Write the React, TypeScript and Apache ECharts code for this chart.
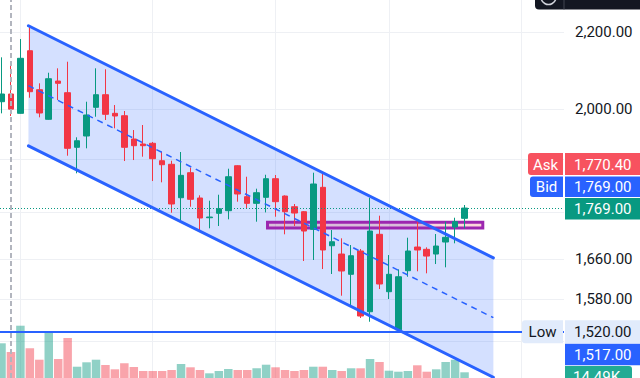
import React, { useEffect, useRef } from "react";
import * as echarts from "echarts";

// ---- data ----
const opens = [2018.5, 2037.9, 1989.6, 2150.3, 2048.8, 1974.9, 2071.0, 2041.2, 1907.5, 1934.4,
  2004.5, 2036.1, 1989.6, 1983.7, 1927.2, 1915.3, 1917.0, 1876.0, 1867.7, 1791.8,
  1848.3, 1791.2, 1747.9, 1757.5, 1763.2, 1864.4, 1794.1, 1779.4, 1792.7, 1834.6,
  1795.6, 1771.9, 1761.0, 1722.9, 1815.1, 1688.2, 1670.9, 1629.4, 1677.2, 1555.5,
  1712.3, 1594.6, 1521.0, 1636.7, 1685.5, 1680.7, 1670.9, 1696.0, 1727.9, 1746.6];
const closes = [2037.9, 2000.0, 2130.2, 2043.7, 1990.4, 2076.9, 2065.1, 1905.1, 1923.1, 1985.5,
  2036.1, 1987.2, 1983.0, 1907.5, 1911.3, 1911.3, 1880.7, 1866.7, 1777.9, 1842.3,
  1788.3, 1747.3, 1749.4, 1767.5, 1839.1, 1800.1, 1779.4, 1803.0, 1834.6, 1783.0,
  1761.0, 1758.1, 1719.3, 1822.6, 1679.3, 1696.6, 1636.1, 1667.4, 1547.2, 1719.3,
  1609.9, 1629.4, 1624.5, 1677.2, 1679.3, 1666.7, 1687.6, 1705.9, 1739.3, 1769.0];
const lows = [1989.6, 1983.0, 1989.0, 2028.5, 1979.8, 1974.0, 2022.7, 1887.7, 1846.9, 1905.1,
  1981.3, 1973.2, 1953.0, 1875.3, 1877.6, 1885.4, 1829.3, 1826.4, 1758.8, 1742.9,
  1771.9, 1719.3, 1725.1, 1730.0, 1744.4, 1783.0, 1768.4, 1739.3, 1759.5, 1750.1,
  1712.3, 1730.0, 1656.5, 1658.6, 1640.1, 1630.0, 1586.7, 1566.5, 1543.4, 1536.3,
  1599.9, 1580.2, 1520.0, 1624.5, 1635.5, 1631.4, 1650.3, 1643.6, 1693.3, 1725.1];
const highs = [2132.8, 2115.1, 2181.8, 2218.1, 2065.1, 2092.4, 2103.9, 2121.2, 1931.3, 2018.5,
  2103.9, 2101.3, 2010.2, 1995.3, 1948.8, 1961.0, 1920.1, 1897.1, 1876.0, 1896.4,
  1859.8, 1797.2, 1785.2, 1798.5, 1857.5, 1865.5, 1839.1, 1812.0, 1843.7, 1843.0,
  1797.0, 1777.9, 1762.5, 1848.3, 1850.6, 1721.4, 1703.8, 1689.7, 1681.4, 1791.8,
  1752.3, 1668.8, 1639.5, 1705.1, 1742.9, 1684.9, 1712.9, 1739.3, 1747.9, 1775.7];
const volumesK = [88.2, 66.1, 132.9, 75.5, 46.5, 116.9, 48.3, 101.7, 28.7, 39.9,
  46.5, 33.0, 22.1, 37.4, 28.0, 17.8, 17.8, 17.8, 20.3, 35.6,
  27.2, 20.3, 11.9, 17.8, 22.9, 20.3, 20.3, 24.7, 33.8, 27.2,
  20.3, 17.8, 20.3, 28.7, 28.7, 20.3, 17.8, 24.7, 24.7, 48.3,
  40.7, 18.6, 16.0, 17.8, 32.3, 16.0, 22.1, 40.7, 46.5, 14.49];

// price grid levels; labels shown for those not hidden behind the price tags
const priceTicks = [1500, 1580, 1660, 1760, 1880, 2000, 2200];
const labelledTicks = [1580, 1660, 1880, 2000, 2200];
const timeGridBars = [2, 16, 29, 41, 55];
const sessionBar = 1;

const channelX = [2.85, 52.05];
const channelUpper = [2218, 1663];
const channelMid = [2059, 1544];
const channelLower = [1911, 1434];

const zoneX = [28.15, 50.93];
const zonePrice = [1738, 1726];

const horizontalLevel = 1517;
const lowOfRange = 1520;
const lastPrice = 1769;
const askPrice = 1770.4;
const bidPrice = 1769.0;

// ---- styles ----
const UP = "#089981";
const DOWN = "#f23645";
const BLUE = "#2962ff";
const FONT = "Roboto, 'Noto Sans', sans-serif";
const FS = 15;

const fmt = (v: number) =>
  v.toLocaleString("en-US", { minimumFractionDigits: 2, maximumFractionDigits: 2 });
const fmtK = (v: number) => `${v.toFixed(2)}K`;

const X_MIN = -0.1587;
const X_MAX = 59.524;

export default function App() {
  const ref = useRef<HTMLDivElement>(null);

  useEffect(() => {
    const chart = echarts.init(ref.current!, null, { renderer: "svg" });

    const candleData = opens.map((o, i) => [i, o, closes[i], lows[i], highs[i]]);
    const volumeData = volumesK.map((v, i) => ({
      value: [i, v],
      itemStyle: {
        color: closes[i] >= opens[i] ? "rgba(8,153,129,0.45)" : "rgba(242,54,69,0.45)",
      },
    }));

    const option: any = {
      animation: false,
      grid: [
        { left: 0, right: 76, top: 0, bottom: 0 },
        { left: 0, right: 76, top: 318, bottom: 0 },
      ],
      xAxis: [
        { type: "value", gridIndex: 0, min: X_MIN, max: X_MAX, show: false },
        { type: "value", gridIndex: 1, min: X_MIN, max: X_MAX, show: false },
      ],
      yAxis: [
        { type: "log", gridIndex: 0, min: 1432.7, max: 2290, show: false, position: "right" },
        { type: "value", gridIndex: 1, min: 0, max: 152.5, show: false },
      ],
      series: [
        {
          name: "grid",
          type: "line",
          data: [],
          xAxisIndex: 0,
          yAxisIndex: 0,
          z: 0,
          silent: true,
          markLine: {
            silent: true,
            z: 0,
            symbol: ["none", "none"],
            lineStyle: { color: "#eef0f4", width: 1, type: "solid" },
            label: { show: false },
            emphasis: { disabled: true },
            data: [
              ...priceTicks.map((v) => ({
                yAxis: v,
                label: {
                  show: labelledTicks.includes(v),
                  position: "end",
                  distance: 11,
                  formatter: fmt(v),
                  color: "#131722",
                  fontSize: FS,
                  fontFamily: FONT,
                },
              })),
              ...timeGridBars.map((b) => ({ xAxis: b })),
            ],
          },
        },
        {
          name: "channel-fill",
          type: "custom",
          xAxisIndex: 0,
          yAxisIndex: 0,
          z: 1,
          silent: true,
          data: [[channelX[0], channelUpper[0]]],
          renderItem: (params: any, api: any) => {
            if (params.dataIndex !== 0) return null;
            const pts = [
              api.coord([channelX[0], channelUpper[0]]),
              api.coord([channelX[1], channelUpper[1]]),
              api.coord([channelX[1], channelLower[1]]),
              api.coord([channelX[0], channelLower[0]]),
            ];
            return { type: "polygon", shape: { points: pts }, style: { fill: "rgba(41,98,255,0.2)" } };
          },
        },
        {
          name: "volume",
          type: "bar",
          xAxisIndex: 1,
          yAxisIndex: 1,
          barWidth: 8.5,
          z: 2,
          silent: true,
          data: volumeData,
        },
        {
          name: "zone",
          type: "line",
          data: [],
          xAxisIndex: 0,
          yAxisIndex: 0,
          z: 2,
          silent: true,
          markArea: {
            silent: true,
            z: 2,
            itemStyle: { color: "rgba(242,54,69,0.2)", borderColor: "#9c27b0", borderWidth: 3 },
            data: [[{ xAxis: zoneX[0], yAxis: zonePrice[0] }, { xAxis: zoneX[1], yAxis: zonePrice[1] }]],
          },
        },
        {
          name: "price",
          type: "candlestick",
          xAxisIndex: 0,
          yAxisIndex: 0,
          z: 3,
          barWidth: 6,
          silent: true,
          data: candleData,
          itemStyle: { color: UP, color0: DOWN, borderColor: UP, borderColor0: DOWN, borderWidth: 1 },
        },
        {
          name: "channel-upper",
          type: "line",
          xAxisIndex: 0,
          yAxisIndex: 0,
          z: 4,
          silent: true,
          showSymbol: false,
          data: channelX.map((x, i) => [x, channelUpper[i]]),
          lineStyle: { color: BLUE, width: 3, cap: "round" },
        },
        {
          name: "channel-lower",
          type: "line",
          xAxisIndex: 0,
          yAxisIndex: 0,
          z: 4,
          silent: true,
          showSymbol: false,
          data: channelX.map((x, i) => [x, channelLower[i]]),
          lineStyle: { color: BLUE, width: 3, cap: "round" },
        },
        {
          name: "channel-mid",
          type: "line",
          xAxisIndex: 0,
          yAxisIndex: 0,
          z: 4,
          silent: true,
          showSymbol: false,
          data: channelX.map((x, i) => [x, channelMid[i]]),
          lineStyle: { color: BLUE, width: 1.5, type: [6, 5] },
        },
        {
          name: "levels",
          type: "line",
          data: [],
          xAxisIndex: 0,
          yAxisIndex: 0,
          z: 4,
          silent: true,
          markLine: {
            silent: true,
            z: 4,
            symbol: ["none", "none"],
            label: { show: false },
            emphasis: { disabled: true },
            data: [
              { yAxis: horizontalLevel, lineStyle: { color: BLUE, width: 2, type: "solid" } },
              { yAxis: lastPrice, lineStyle: { color: UP, width: 1, type: [1, 2] } },
              { xAxis: sessionBar, lineStyle: { color: "#b2b5be", width: 2, type: [5, 3] } },
            ],
          },
        },
      ],
    };

    chart.setOption(option);

    const py = (v: number) => chart.convertToPixel({ yAxisIndex: 0 }, v) as number;
    const vy = (v: number) => chart.convertToPixel({ yAxisIndex: 1 }, v) as number;

    const box = (x: number, y: number, w: number, h: number, fill: string, r: any = 0) => ({
      type: "rect",
      z: 100,
      silent: true,
      shape: { x, y, width: w, height: h, r },
      style: { fill },
    });
    const txt = (x: number, y: number, t: string, fill: string, align = "left") => ({
      type: "text",
      z: 101,
      silent: true,
      x,
      y,
      style: {
        text: t,
        fill,
        fontSize: FS,
        fontFamily: FONT,
        align,
        verticalAlign: "middle",
        textAlign: align,
        textVerticalAlign: "middle",
      },
    });

    const yLast = py(lastPrice);
    const gTop = yLast - 10;
    const gH = 21.5;
    const bidTop = gTop - 21.5;
    const bidH = 20.5;
    const askTop = bidTop - 23.5;
    const askH = 22;

    const lowTop = py(lowOfRange) - 10;
    const lowH = 23;
    const blueTop = lowTop + lowH + 0.5;
    const blueH = 21.3;
    const volC = Math.max(vy(volumesK[volumesK.length - 1]), blueTop + blueH + 0.8 + 11);

    const graphic: any[] = [
      // top-right toolbar fragment
      box(535, -6, 110, 15.5, "#131722", 4),
      { type: "circle", z: 101, silent: true, shape: { cx: 548.5, cy: -3, r: 7.5 }, style: { fill: "none", stroke: "#d1d4dc", lineWidth: 1.5 } },
      { type: "line", z: 101, silent: true, shape: { x1: 564, y1: 0, x2: 564, y2: 9.5 }, style: { stroke: "#434651", lineWidth: 1 } },

      // Ask
      box(528, askTop, 35, askH, "#f7525f", [3, 0, 0, 3]),
      box(565, askTop, 75, askH, "#f7525f"),
      txt(545.5, askTop + askH / 2 + 0.5, "Ask", "#ffffff", "center"),
      txt(574, askTop + askH / 2 + 0.5, fmt(askPrice), "#ffffff"),
      // Bid
      box(530, bidTop, 33, bidH, BLUE, [3, 0, 0, 3]),
      box(565, bidTop, 75, bidH, BLUE),
      txt(546.5, bidTop + bidH / 2 + 0.5, "Bid", "#ffffff", "center"),
      txt(574, bidTop + bidH / 2 + 0.5, fmt(bidPrice), "#ffffff"),
      // last price
      box(565, gTop, 75, gH, UP),
      txt(574, gTop + gH / 2 + 0.5, fmt(lastPrice), "#ffffff"),

      // Low
      box(522, lowTop, 41, lowH, "#e1ebfb", [3, 0, 0, 3]),
      box(565, lowTop, 75, lowH, "#e1ebfb"),
      txt(542.5, lowTop + lowH / 2 + 0.5, "Low", "#131722", "center"),
      txt(574, lowTop + lowH / 2 + 0.5, fmt(lowOfRange), "#131722"),
      // horizontal line label
      box(565, blueTop, 75, blueH, BLUE),
      txt(574, blueTop + blueH / 2 + 0.5, fmt(horizontalLevel), "#ffffff"),
      // volume label
      box(565, volC - 11, 67, 22, "#22ab94", [0, 3, 3, 0]),
      txt(573, volC + 0.5, fmtK(volumesK[volumesK.length - 1]), "#ffffff"),
    ];

    chart.setOption({ graphic });

    return () => chart.dispose();
  }, []);

  return (
    <div
      ref={ref}
      style={{ position: "fixed", left: 0, top: 0, width: 640, height: 378, background: "#ffffff" }}
    />
  );
}
